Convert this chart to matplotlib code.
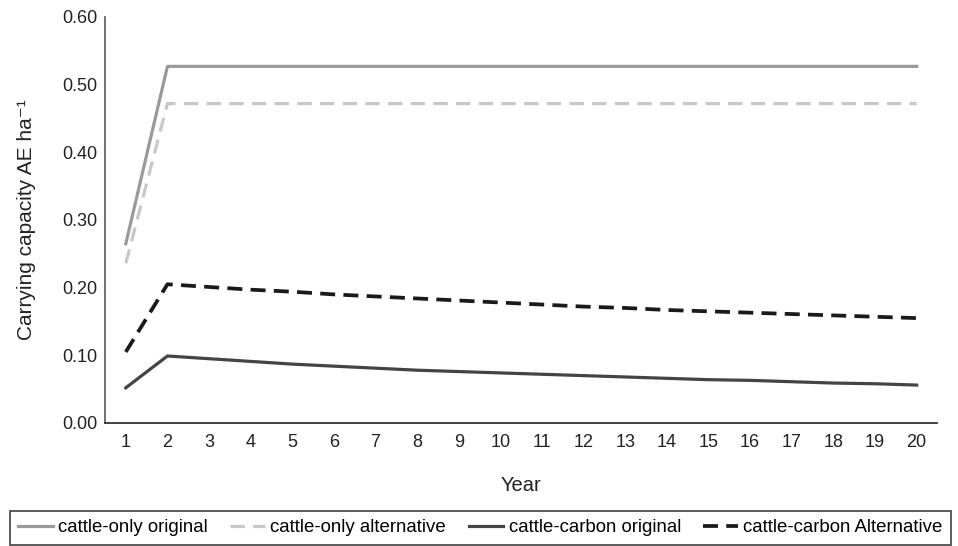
import matplotlib
matplotlib.use('Agg')
import matplotlib.pyplot as plt

plt.rcParams['font.family'] = ['Liberation Sans', 'DejaVu Sans']

# Years and carrying capacity values
years = list(range(1, 21))
cattle_only_original = [0.265] + [0.527] * 19
cattle_only_alternative = [0.236] + [0.472] * 19
cattle_carbon_original = [0.052, 0.099, 0.095, 0.091, 0.087, 0.084, 0.081, 0.078, 0.076, 0.074,
                          0.072, 0.070, 0.068, 0.066, 0.064, 0.063, 0.061, 0.059, 0.058, 0.056]
cattle_carbon_alternative = [0.105, 0.205, 0.201, 0.197, 0.194, 0.190, 0.187, 0.184, 0.181, 0.178,
                             0.175, 0.172, 0.170, 0.167, 0.165, 0.163, 0.161, 0.159, 0.157, 0.155]
y_ticks = [0.0, 0.1, 0.2, 0.3, 0.4, 0.5, 0.6]

fig = plt.figure(figsize=(9.58, 5.46), dpi=100)
ax = fig.add_axes([0.1096, 0.2253, 0.869, 0.7436])

ax.plot(years, cattle_only_original, color='#9a9a9a', lw=2.3, label='cattle-only original')
ax.plot(years, cattle_only_alternative, color='#c8c8c8', lw=2.3, dashes=(4.5, 2.6),
        label='cattle-only alternative')
ax.plot(years, cattle_carbon_original, color='#444444', lw=2.3, label='cattle-carbon original')
ax.plot(years, cattle_carbon_alternative, color='#1a1a1a', lw=2.7, dashes=(4.0, 2.2),
        label='cattle-carbon Alternative')

ax.set_xlim(0.5, 20.5)
ax.set_ylim(0, 0.6)
ax.set_xticks(years)
ax.set_yticks(y_ticks)
ax.set_yticklabels([f'{v:.2f}' for v in y_ticks])
ax.tick_params(length=0, labelsize=13, colors='#222222')
ax.tick_params(axis='x', pad=8)
ax.tick_params(axis='y', pad=5.5)

for side in ['top', 'right']:
    ax.spines[side].set_visible(False)
ax.spines['left'].set_color('#666666')
ax.spines['bottom'].set_color('#333333')
ax.spines['left'].set_linewidth(1.3)
ax.spines['bottom'].set_linewidth(1.3)

ax.set_xlabel('Year', fontsize=14.5, labelpad=18, color='#222222')
ax.set_ylabel('Carrying capacity AE ha\u207b\u00b9', fontsize=15, labelpad=19, color='#222222')

leg = fig.legend(loc='upper left', bbox_to_anchor=(10 / 958, 1 - 511 / 546), ncol=4,
                 fontsize=13.4, frameon=True, fancybox=False, borderaxespad=0,
                 handlelength=1.85, handletextpad=0.3, columnspacing=1.2, borderpad=0.45)
leg.get_frame().set_edgecolor('#222222')
leg.get_frame().set_linewidth(1.3)

fig.savefig('out.png', dpi=100)
